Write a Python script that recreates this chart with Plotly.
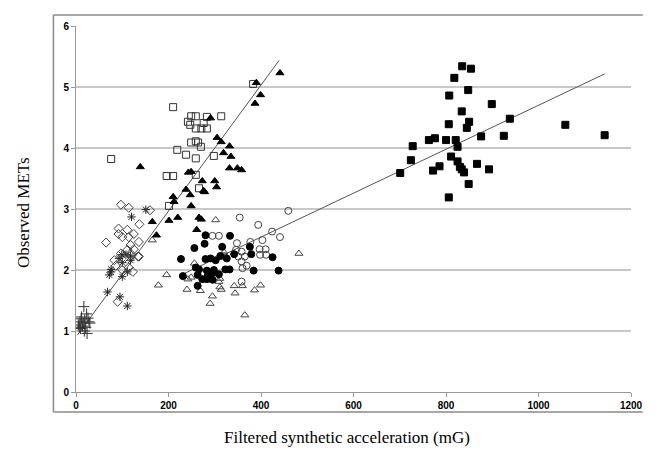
import plotly.graph_objects as go

# ---- data (x: filtered synthetic acceleration mG, y: observed METs) ----
plus_x = [17, 12, 23, 26, 8.5, 19, 5, 14, 10, 21, 30, 24, 15.5, 7, 28, 18, 11]
plus_y = [1.40, 1.23, 1.28, 1.21, 1.15, 1.18, 1.10, 1.08, 1.04, 1.06, 1.13, 0.96, 1.13, 1.06, 1.15, 1.00, 1.20]

star_x = [120, 151, 99, 76, 118, 100, 76, 72, 111, 100, 68, 95, 111, 118, 93, 108]
star_y = [2.87, 2.99, 2.25, 2.01, 2.23, 2.12, 1.97, 1.92, 1.97, 1.89, 1.64, 1.56, 1.41, 2.16, 2.19, 2.25]

diam_x = [97, 114, 137, 65, 92, 111, 92, 100, 114, 125, 136, 118, 111, 125, 134, 83, 104, 86, 114, 100, 123, 90, 97, 118, 136, 160]
diam_y = [3.07, 3.02, 2.75, 2.45, 2.68, 2.66, 2.59, 2.54, 2.54, 2.59, 2.46, 2.41, 2.33, 2.34, 2.22, 2.16, 2.19, 2.07, 2.04, 2.00, 1.97, 1.48, 2.27, 2.27, 2.22, 2.98]

osq_x = [383, 210, 249, 259, 283, 314, 242, 276, 247, 259, 271, 283, 249, 259, 264, 270, 219, 238, 259, 298, 196, 210, 259, 266, 201, 76]
osq_y = [5.05, 4.67, 4.52, 4.52, 4.51, 4.52, 4.43, 4.41, 4.38, 4.32, 4.32, 4.32, 4.09, 4.11, 4.09, 4.02, 3.97, 3.89, 3.83, 3.87, 3.54, 3.54, 3.56, 3.34, 3.05, 3.82]

ftri_x = [441, 390, 399, 387, 291, 305, 314, 332, 319, 335, 332, 349, 358, 243, 249, 273, 300, 238, 247, 276, 278, 304, 210, 212, 249,
          220, 201, 165, 266, 271, 261, 174, 139]
ftri_y = [5.23, 5.07, 4.87, 4.73, 4.49, 4.17, 4.10, 4.03, 3.92, 3.86, 3.67, 3.67, 3.64, 3.60, 3.61, 3.46, 3.46, 3.32, 3.23, 3.30, 3.28, 3.36, 3.20, 3.12, 3.05,
          2.86, 2.81, 2.79, 2.86, 2.83, 2.66, 2.57, 3.69]

fcir_x = [280, 333, 278, 256, 316, 227, 280, 291, 302, 312, 326, 342, 379, 376, 425, 266, 332, 298, 283, 384, 438, 231, 263, 284, 295, 309, 323, 263, 273, 283, 295, 259]
fcir_y = [2.57, 2.56, 2.43, 2.36, 2.38, 2.18, 2.18, 2.19, 2.16, 2.23, 2.19, 2.26, 2.26, 2.38, 2.21, 2.01, 2.01, 2.00, 1.99, 1.99, 1.99, 1.90, 1.92, 1.89, 1.95, 1.93, 2.01, 1.74, 1.85, 1.85, 1.84, 2.04]

ocir_x = [354, 459, 394, 424, 441, 403, 295, 309, 348, 377, 397, 410, 398, 411, 358, 351, 365, 358, 369, 360, 319, 358, 346]
ocir_y = [2.86, 2.97, 2.74, 2.63, 2.54, 2.49, 2.56, 2.56, 2.44, 2.46, 2.34, 2.34, 2.25, 2.25, 2.30, 2.22, 2.22, 2.14, 2.07, 2.03, 2.23, 1.81, 2.33]

otri_x = [302, 482, 320, 256, 196, 178, 242, 249, 311, 240, 269, 311, 314, 342, 344, 360, 386, 399, 295, 290, 365, 309, 165]
otri_y = [2.82, 2.27, 2.29, 2.11, 1.92, 1.75, 1.85, 1.88, 1.86, 1.68, 1.66, 1.72, 1.68, 1.74, 1.62, 1.74, 1.67, 1.75, 1.57, 1.45, 1.26, 1.81, 2.49]

fsq_x = [835, 854, 818, 807, 848, 899, 834, 850, 845, 806, 938, 1058, 1143, 763, 776, 800, 821, 825, 728, 876, 925, 724, 701, 811, 825, 830, 834, 839, 867, 893, 786, 772, 849, 806]
fsq_y = [5.34, 5.30, 5.15, 4.86, 4.95, 4.72, 4.60, 4.43, 4.33, 4.39, 4.48, 4.38, 4.21, 4.13, 4.16, 4.13, 4.13, 4.02, 4.03, 4.19, 4.20, 3.80, 3.59, 3.86, 3.78, 3.69, 3.65, 3.60, 3.74, 3.65, 3.70, 3.63, 3.41, 3.19]

# regression lines: intercept, slope, x extent
fit1_intercept, fit1_slope, fit1_xrange = 0.90, 0.01033, [3, 439]
fit2_intercept, fit2_slope, fit2_xrange = 1.10, 0.0036, [230, 1143]

x_ticks = [0, 200, 400, 600, 800, 1000, 1200]
y_ticks = [0, 1, 2, 3, 4, 5, 6]

fig = go.Figure()

def add(xs, ys, symbol, size, color="black", lw=1):
    fig.add_trace(go.Scatter(x=xs, y=ys, mode="markers",
                             marker=dict(symbol=symbol, size=size, color=color,
                                         line=dict(width=lw, color=color)),
                             showlegend=False, hoverinfo="skip"))

for xr, b0, b1 in [(fit1_xrange, fit1_intercept, fit1_slope), (fit2_xrange, fit2_intercept, fit2_slope)]:
    fig.add_trace(go.Scatter(x=xr, y=[b0 + b1 * v for v in xr], mode="lines",
                             line=dict(color="#555", width=1), showlegend=False, hoverinfo="skip"))

add(plus_x, plus_y, "cross-thin-open", 8, color="#333")
add(star_x, star_y, "asterisk-open", 7, color="#222")
add(diam_x, diam_y, "diamond-open", 7, color="#444")
add(osq_x, osq_y, "square-open", 7, color="#333")
add(otri_x, otri_y, "triangle-up-open", 7, color="#444")
add(ocir_x, ocir_y, "circle-open", 7, color="#444")
add(ftri_x, ftri_y, "triangle-up", 7, color="black")
add(fcir_x, fcir_y, "circle", 7, color="black")
add(fsq_x, fsq_y, "square", 7, color="black")

# page body has an 8px margin, so the figure is sized/offset to compensate
PW = 566.0  # plot width in px
PH = 366.0  # plot height in px
def px_x(p):  # page x pixel -> paper fraction
    return (p - 76) / PW
def px_y(p):  # page y pixel -> paper fraction
    return (392 - p) / PH

tickfont = dict(family="Liberation Sans", size=10, color="black", weight="bold")
frame = dict(color="#8a8a8a", width=1.5)
fig.update_layout(
    width=647, height=447,
    margin=dict(l=68, r=13, t=18, b=63),
    paper_bgcolor="white", plot_bgcolor="white",
    xaxis=dict(range=[0, 1200], tickvals=x_ticks, showgrid=False, zeroline=False,
               showline=True, linecolor="#999", linewidth=1, ticks="outside",
               ticklen=4, tickcolor="#999", tickfont=tickfont),
    yaxis=dict(range=[0, 6], tickvals=y_ticks, showgrid=True, gridcolor="#c8c8c8", gridwidth=1.5,
               zeroline=False, showline=True, linecolor="#999", linewidth=1, ticks="outside",
               ticklen=4, tickcolor="#999", tickfont=tickfont),
    shapes=[
        dict(type="line", xref="paper", yref="paper", x0=px_x(53), x1=px_x(53), y0=px_y(15), y1=px_y(412), line=frame),
        dict(type="line", xref="paper", yref="paper", x0=px_x(53), x1=px_x(654), y0=px_y(15), y1=px_y(15), line=frame),
        dict(type="line", xref="paper", yref="paper", x0=px_x(53), x1=px_x(654), y0=px_y(412), y1=px_y(412), line=frame),
    ],
    annotations=[
        dict(text="Observed METs", xref="paper", yref="paper", x=px_x(22), y=px_y(213), showarrow=False,
             textangle=-90, font=dict(family="Liberation Serif", size=17, color="black"),
             xanchor="center", yanchor="middle"),
        dict(text="Filtered synthetic acceleration (mG)", xref="paper", yref="paper", x=px_x(352), y=px_y(437),
             showarrow=False, font=dict(family="Liberation Serif", size=17, color="black"),
             xanchor="center", yanchor="middle"),
    ],
)

fig.write_html("out.html")
